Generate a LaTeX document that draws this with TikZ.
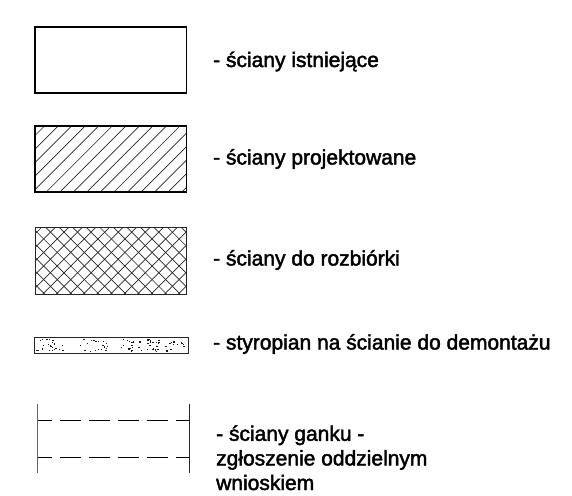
\documentclass[tikz,border=0pt]{standalone}
\usepackage{fontspec}
\setmainfont[FakeBold=2]{Liberation Sans}
\begin{document}
\begin{tikzpicture}[x=1pt,y=-1pt,
  wall/.style={draw=black,line width=1.4pt},
  hatch/.style={draw=black!85,line width=0.7pt},
  dashrow/.style={draw=black,line width=0.9pt,dash pattern=on 20.6pt off 8.3pt,dash phase=6.1pt},
  tick/.style={draw=black!85,line width=0.9pt},
  label/.style={anchor=base west,inner sep=0pt,font=\fontsize{21pt}{24.6pt}\selectfont,align=left}]
\useasboundingbox (0,0) rectangle (572,495);
\fill[white] (0,0) rectangle (572,495);
% existing
\draw[wall] (35,27) rectangle (186.5,93);
% designed
\begin{scope}
\clip (35,126) rectangle (186.5,192);
\foreach \k in {0,...,16} {
  \draw[hatch] ({44.5+13.55*\k},126) -- ({44.5+13.55*\k-70},196);
}
\end{scope}
\draw[wall] (35,126) rectangle (186.5,192);
% demolition
\begin{scope}
\clip (35,227) rectangle (186.5,294);
\foreach \k in {0,...,16} {
  \draw[hatch] ({42+13.55*\k},227) -- ({42+13.55*\k-70},297);
  \draw[hatch] ({34+13.55*\k-70},227) -- ({34+13.55*\k},297);
}
\end{scope}
\draw[draw=black!85,line width=1pt] (35,227) rectangle (186.5,294);
% polystyrene
\pgfmathsetseed{4711}
\foreach \xa/\xb/\n in {36/186/30,40/67/22,90/107/13,120/133/12,147/177/22} {
  \foreach \i in {1,...,\n} {
    \pgfmathsetmacro{\px}{\xa+(\xb-\xa)*rnd}
    \pgfmathsetmacro{\py}{338.5+12.5*rnd}
    \fill[black!90] (\px,\py) rectangle (\px+1.4,\py+1.1);
  }
}
\draw[draw=black!85,line width=0.9pt] (34.5,337.5) rectangle (188,353);
% porch walls
\draw[tick,draw=black!60,line width=1.2pt] (37.5,404) -- (37.5,473);
\draw[tick] (189,404) -- (189,473);
\draw[dashrow] (37.5,420) -- (189,420);
\draw[dashrow] (37.5,457) -- (189,457);
% labels
\node[label] (t1) at (213,67) {- ściany istniejące};
\node[label] (t2) at (213,164.5) {- ściany projektowane};
\node[label] (t3) at (213,265.5) {- ściany do rozbiórki};
\node[label] (t4) at (213,349.5) {- styropian na ścianie do demontażu};
\node[label] (t5) at (216,490) {- ściany ganku -\\zgłoszenie oddzielnym\\wnioskiem};
\end{tikzpicture}
\end{document}
